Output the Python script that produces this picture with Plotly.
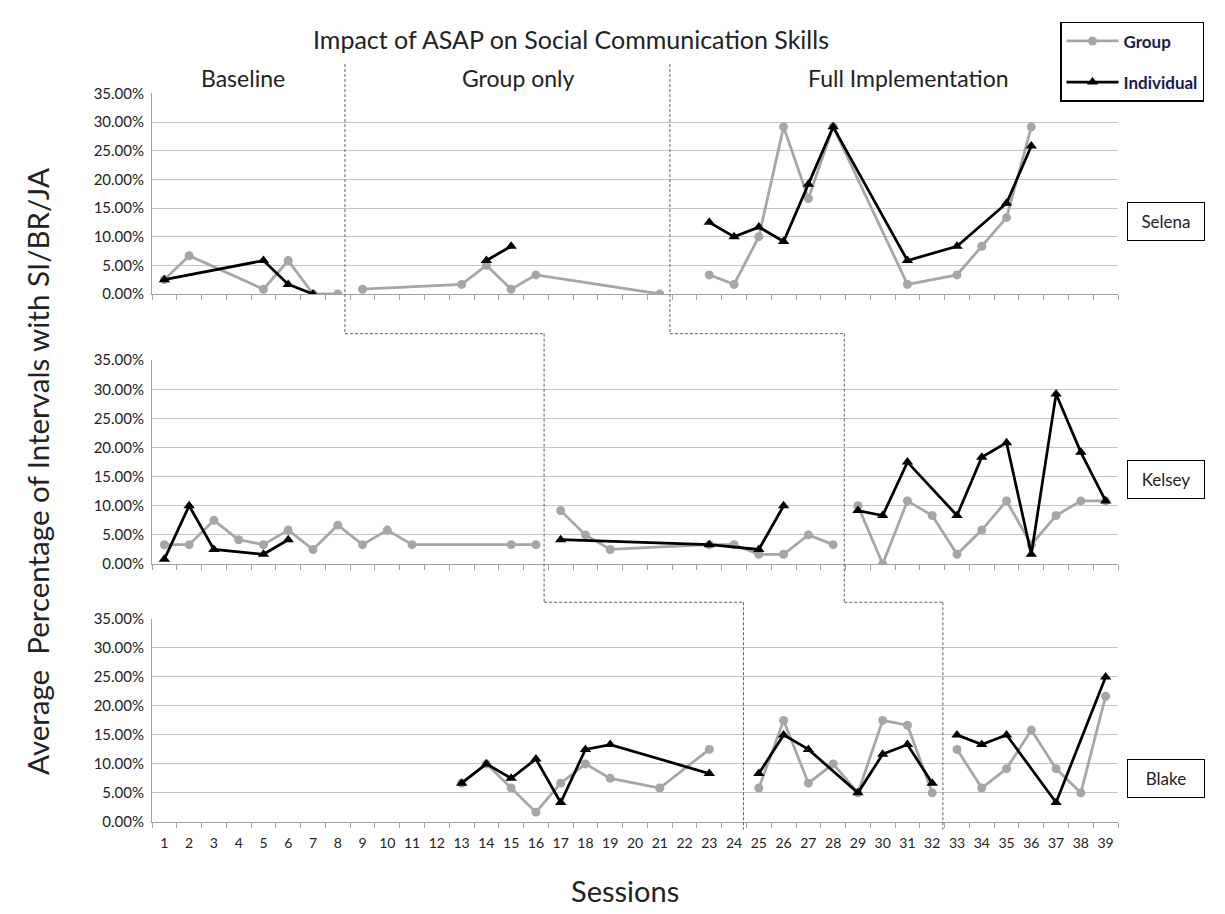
import plotly.graph_objects as go

W, H = 1225, 914
FONT = "Lato"

# ---------------- data (percent of intervals) ----------------
sessions_all = list(range(1, 40))

# Selena
selena_group_sessions = [1, 2, 5, 6, 7, 8, 9, 13, 14, 15, 16, 21,
                         23, 24, 25, 26, 27, 28, 31, 33, 34, 35, 36]
selena_group_values = [2.5, 6.67, 0.83, 5.83, 0, 0, 0.83, 1.67, 5.0, 0.83, 3.33, 0,
                       3.33, 1.67, 10.0, 29.17, 16.67, 29.17, 1.67, 3.33, 8.33, 13.33, 29.17]
selena_indiv_sessions = [1, 5, 6, 7, 14, 15,
                         23, 24, 25, 26, 27, 28, 31, 33, 35, 36]
selena_indiv_values = [2.5, 5.83, 1.67, 0, 5.83, 8.33,
                       12.5, 10.0, 11.67, 9.17, 19.17, 29.17, 5.83, 8.33, 15.83, 25.83]
selena_phase_lines = [8.29, 21.41]

# Kelsey
kelsey_group_sessions = [1, 2, 3, 4, 5, 6, 7, 8, 9, 10, 11, 15, 16,
                         17, 18, 19, 23, 24, 25, 26, 27, 28,
                         29, 30, 31, 32, 33, 34, 35, 36, 37, 38, 39]
kelsey_group_values = [3.33, 3.33, 7.5, 4.17, 3.33, 5.83, 2.5, 6.67, 3.33, 5.83, 3.33, 3.33, 3.33,
                       9.17, 5.0, 2.5, 3.33, 3.33, 1.67, 1.67, 5.0, 3.33,
                       10.0, 0, 10.83, 8.33, 1.67, 5.83, 10.83, 3.33, 8.33, 10.83, 10.83]
kelsey_indiv_sessions = [1, 2, 3, 5, 6,
                         17, 23, 25, 26,
                         29, 30, 31, 33, 34, 35, 36, 37, 38, 39]
kelsey_indiv_values = [0.83, 10.0, 2.5, 1.67, 4.17,
                       4.17, 3.33, 2.5, 10.0,
                       9.17, 8.33, 17.5, 8.33, 18.33, 20.83, 1.67, 29.17, 19.17, 10.83]
kelsey_phase_lines = [16.33, 28.45]

# Blake
blake_group_sessions = [13, 14, 15, 16, 17, 18, 19, 21, 23,
                        25, 26, 27, 28, 29, 30, 31, 32,
                        33, 34, 35, 36, 37, 38, 39]
blake_group_values = [6.67, 10.0, 5.83, 1.67, 6.67, 10.0, 7.5, 5.83, 12.5,
                      5.83, 17.5, 6.67, 10.0, 5.0, 17.5, 16.67, 5.0,
                      12.5, 5.83, 9.17, 15.83, 9.17, 5.0, 21.67]
blake_indiv_sessions = [13, 14, 15, 16, 17, 18, 19, 23,
                        25, 26, 27, 29, 30, 31, 32,
                        33, 34, 35, 37, 39]
blake_indiv_values = [6.67, 10.0, 7.5, 10.83, 3.33, 12.5, 13.33, 8.33,
                      8.33, 15.0, 12.5, 5.0, 11.67, 13.33, 6.67,
                      15.0, 13.33, 15.0, 3.33, 25.0]
blake_phase_lines = [24.38, 32.43]

participants = ["Selena", "Kelsey", "Blake"]
phase_labels = ["Baseline", "Group only", "Full Implementation"]
y_ticks = [0, 5, 10, 15, 20, 25, 30, 35]

# ---------------- helpers ----------------
def px(x):
    return x / W

def py(y):
    return 1 - y / H

def split_phases(sess, vals, lines):
    xs, ys = [], []
    prev = None
    for s, v in zip(sess, vals):
        if prev is not None and any(prev < b < s for b in lines):
            xs.append(None)
            ys.append(None)
        xs.append(s)
        ys.append(v / 100.0)
        prev = s
    return xs, ys

GRAY = "#a6a6a6"
BLACK = "#000000"

panels = [
    (selena_group_sessions, selena_group_values, selena_indiv_sessions, selena_indiv_values, selena_phase_lines),
    (kelsey_group_sessions, kelsey_group_values, kelsey_indiv_sessions, kelsey_indiv_values, kelsey_phase_lines),
    (blake_group_sessions, blake_group_values, blake_indiv_sessions, blake_indiv_values, blake_phase_lines),
]
panel_px = [(77, 281.5), (349, 557), (613, 820)]
x_left, x_right = 144, 1110

fig = go.Figure()
for i, (gs, gv, isess, iv, lines) in enumerate(panels):
    ax = "" if i == 0 else str(i + 1)
    gx, gy = split_phases(gs, gv, lines)
    ix, iy = split_phases(isess, iv, lines)
    fig.add_trace(go.Scatter(
        x=gx, y=gy, mode="lines+markers", name="Group", legendgroup="g",
        showlegend=(i == 0), connectgaps=False,
        line=dict(color=GRAY, width=2.75),
        marker=dict(symbol="circle", size=9, color=GRAY),
        xaxis="x" + ax, yaxis="y" + ax))
    fig.add_trace(go.Scatter(
        x=ix, y=iy, mode="lines+markers", name="Individual", legendgroup="i",
        showlegend=(i == 0), connectgaps=False,
        line=dict(color=BLACK, width=2.75),
        marker=dict(symbol="triangle-up", size=10, color=BLACK),
        xaxis="x" + ax, yaxis="y" + ax))

layout = dict(
    width=W, height=H,
    margin=dict(l=0, r=0, t=0, b=0),
    paper_bgcolor="white", plot_bgcolor="white",
    font=dict(family=FONT, color="#222222", size=14),
    showlegend=True,
    legend=dict(x=px(1052), y=py(4), xanchor="left", yanchor="top",
                bordercolor="#000000", borderwidth=1.5, bgcolor="white",
                font=dict(size=17, color="#1a1a4a", weight="bold"),
                tracegroupgap=16, itemwidth=52),
)
for i, (top, bot) in enumerate(panel_px):
    ax = "" if i == 0 else str(i + 1)
    xa = dict(
        domain=[px(x_left), px(x_right)], range=[0.5, 39.5],
        anchor="y" + ax, showgrid=False, zeroline=False,
        showline=True, linecolor="#a0a0a0", linewidth=1,
        tickmode="array", tickvals=sessions_all,
        ticktext=[str(s) for s in sessions_all] if i == 2 else [""] * len(sessions_all),
        ticks="", tickfont=dict(size=14, color="#222222"),
        ticklabelstandoff=8,
        minor=dict(ticks="outside", ticklen=5, tickcolor="#a0a0a0", tick0=0.5, dtick=1,
                   showgrid=False),
        fixedrange=True,
    )
    ya = dict(
        domain=[py(bot), py(top)], range=[0, 0.35],
        anchor="x" + ax, tickmode="array", tickvals=[t / 100 for t in y_ticks],
        tickformat=".2%", showgrid=True, gridcolor="#c4c4c4", gridwidth=1.2,
        zeroline=False, showline=True, linecolor="#a0a0a0", linewidth=1,
        ticks="", tickfont=dict(size=15, color="#222222"), ticklabelstandoff=4,
        fixedrange=True,
    )
    layout["xaxis" + ax] = xa
    layout["yaxis" + ax] = ya
fig.update_layout(**layout)

# ---------------- phase change lines ----------------
dash = dict(color="#606060", width=1, dash="3px,2px")
step1, step2 = py(322), py(596)
y_top, y_bot = py(47), py(828)
shapes = []
s1, s2 = selena_phase_lines
k1, k2 = kelsey_phase_lines
b1, b2 = blake_phase_lines
segments = [
    (s1, y_top, s1, step1), (s1, step1, k1, step1), (k1, step1, k1, step2),
    (k1, step2, b1, step2), (b1, step2, b1, y_bot),
    (s2, y_top, s2, step1), (s2, step1, k2, step1), (k2, step1, k2, step2),
    (k2, step2, b2, step2), (b2, step2, b2, y_bot),
]
for x0, y0, x1, y1 in segments:
    shapes.append(dict(type="line", xref="x", yref="paper", x0=x0, y0=y0, x1=x1, y1=y1,
                       line=dash, layer="above"))
fig.update_layout(shapes=shapes)

# ---------------- text ----------------
def text(t, x, y, size, **kw):
    d = dict(text=t, x=px(x), y=py(y), xref="paper", yref="paper", showarrow=False,
             xanchor="center", yanchor="middle",
             font=dict(size=size, color="#222222", family=FONT))
    d.update(kw)
    return d

ann = [text("Impact of ASAP on Social Communication Skills", 563, 21, 25)]
for label, xc in zip(phase_labels, [235, 510, 900]):
    ann.append(text(label, xc, 61, 23))
for name, yc in zip(participants, [208, 471, 776]):
    ann.append(text(name, 1158, yc, 17, bordercolor="#000000", borderwidth=1, borderpad=8,
                    bgcolor="white", width=60))
ann.append(text("Average  Percentage of Intervals with SI/BR/JA", 30, 463, 29.5, textangle=-90))
ann.append(text("Sessions", 617, 890, 29))
fig.update_layout(annotations=ann)

fig.write_html("out.html")
